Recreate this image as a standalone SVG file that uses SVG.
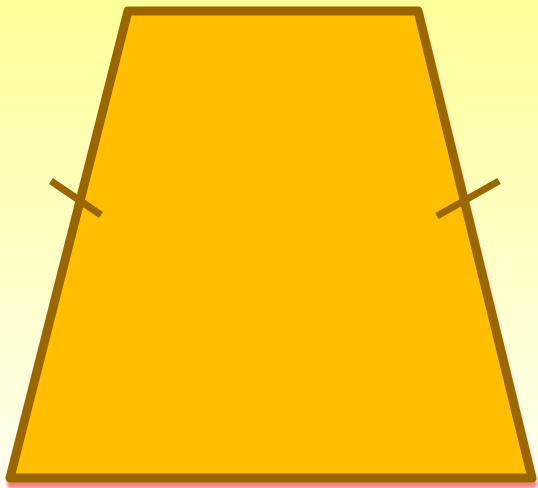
<svg xmlns="http://www.w3.org/2000/svg" width="538" height="488" viewBox="0 0 538 488">
<defs>
<linearGradient id="bg" x1="0" y1="0" x2="0" y2="1">
<stop offset="0" stop-color="#FFFF99"/>
<stop offset="1" stop-color="#FFFFF0"/>
</linearGradient>
<filter id="blur" x="-10%" y="-10%" width="120%" height="120%"><feGaussianBlur stdDeviation="1.5"/></filter>
<style>
.shape{fill:#FFBF00;stroke:#9A6600;stroke-width:9;stroke-linejoin:round}
.tick{stroke:#9A6600;stroke-width:7;fill:none}
</style>
</defs>
<rect width="538" height="488" fill="url(#bg)"/>
<g id="shadow">
<polygon points="129,16 419,16 533,484 11,484" fill="#FF8080" stroke="#FF8080" stroke-width="8" stroke-linejoin="round" filter="url(#blur)"/>
</g>
<g id="trapezoid">
<polygon class="shape" points="128,11 418,11 532,478 10,478"/>
</g>
<g id="connectors">
<line class="tick" x1="51" y1="181" x2="101" y2="215"/>
<line class="tick" x1="437" y1="216" x2="499" y2="181"/>
</g>
</svg>
